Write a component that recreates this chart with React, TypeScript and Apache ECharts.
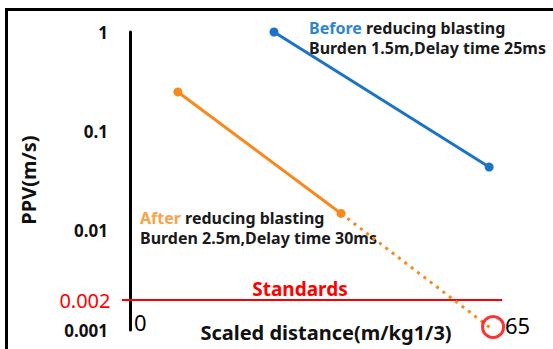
import React, { useEffect, useRef } from "react";
import * as echarts from "echarts";

// ---- data ----
const yTickValues = [0.001, 0.01, 0.1, 1];
const yTickLabels = ["0.001", "0.01", "0.1", "1"];
const xTickValues = [0, 65];
const xRange = [-1.4, 66.6];

const beforeX = [25.8, 64.3];
const beforeY = [1.0, 0.0437];

const afterX = [8.6, 37.8];
const afterY = [0.249, 0.0149];

const projectionX = [37.8, 65];
const projectionY = [0.0149, 0.001];

const standardValue = 0.002;
const standardLabel = "0.002";
const standardX = [-1.4, 66.6];

const targetPoint = [65, 0.001];

const FONT = "'Noto Sans', 'DejaVu Sans', sans-serif";
const BLUE = "#1a73c6";
const ORANGE = "#f58a1f";
const RED = "#ff0000";

export default function App() {
  const ref = useRef<HTMLDivElement>(null);

  useEffect(() => {
    if (!ref.current) return;
    const chart = echarts.init(ref.current, null, { renderer: "svg" });

    const zip = (xs: number[], ys: number[]) => xs.map((x, i) => [x, ys[i]]);

    chart.setOption({
      animation: false,
      backgroundColor: "#ffffff",
      grid: {
        left: 122,
        right: 51,
        top: 32,
        bottom: 19,
        containLabel: false,
        outerBoundsMode: "none",
      },
      xAxis: {
        type: "value",
        min: xRange[0],
        max: xRange[1],
        axisLine: { show: false, onZero: false },
        axisTick: { show: false },
        splitLine: { show: false },
        axisLabel: {
          customValues: xTickValues,
          margin: -8,
          verticalAlign: "middle",
          fontFamily: FONT,
          fontSize: 22,
          color: "#000",
          formatter: (v: number) => (v === xTickValues[0] ? `{a|${v}}` : `{b|${v}}`),
          rich: {
            a: { fontFamily: FONT, fontSize: 22, color: "#000", padding: [0, 0, 0, 21] },
            b: { fontFamily: FONT, fontSize: 22, color: "#000", padding: [6, 0, 0, 49] },
          },
        },
      },
      yAxis: {
        type: "log",
        logBase: 10,
        min: yTickValues[0],
        max: yTickValues[yTickValues.length - 1],
        offset: -8,
        axisLine: { show: true, onZero: false, lineStyle: { color: "#000", width: 3 } },
        axisTick: { show: false },
        splitLine: { show: false },
        axisLabel: {
          margin: 22,
          fontFamily: FONT,
          fontSize: 17,
          fontWeight: "bold",
          color: "#111",
          formatter: (v: number) => {
            const idx = yTickValues.findIndex((t) => Math.abs(Math.log10(t) - Math.log10(v)) < 1e-6);
            return idx >= 0 ? yTickLabels[idx] : "";
          },
        },
      },
      series: [
        {
          name: "Standards",
          type: "line",
          clip: false,
          symbol: "circle",
          symbolSize: 1,
          showSymbol: true,
          z: 1,
          silent: true,
          itemStyle: { color: RED },
          lineStyle: { color: RED, width: 2 },
          data: [
            {
              value: [standardX[0], standardValue],
              label: {
                show: true,
                position: "left",
                distance: 11,
                formatter: standardLabel,
                fontFamily: FONT,
                fontSize: 20,
                color: RED,
              },
            },
            { value: [standardX[1], standardValue] },
          ],
        },
        {
          name: "Before",
          type: "line",
          clip: false,
          symbol: "circle",
          symbolSize: 9,
          z: 3,
          itemStyle: { color: BLUE },
          lineStyle: { color: BLUE, width: 3 },
          data: zip(beforeX, beforeY),
        },
        {
          name: "After projection",
          type: "line",
          clip: false,
          symbol: "none",
          z: 2,
          lineStyle: { color: ORANGE, width: 3, type: [3, 5], cap: "butt" },
          data: zip(projectionX, projectionY),
        },
        {
          name: "After",
          type: "line",
          clip: false,
          symbol: "circle",
          symbolSize: 9,
          z: 3,
          itemStyle: { color: ORANGE },
          lineStyle: { color: ORANGE, width: 3 },
          data: zip(afterX, afterY),
        },
        {
          name: "Target",
          type: "scatter",
          clip: false,
          symbol: "circle",
          symbolSize: 21,
          symbolOffset: [0, -3],
          z: 4,
          itemStyle: { color: "rgba(0,0,0,0)", borderColor: RED, borderWidth: 3 },
          data: [targetPoint],
        },
      ],
      graphic: [
        {
          type: "rect",
          silent: true,
          shape: { x: 6.5, y: 9.5, width: 700, height: 500 },
          style: { fill: "none", stroke: "#000", lineWidth: 3 },
        },
        {
          type: "text",
          x: 28,
          y: 180,
          rotation: Math.PI / 2,
          style: {
            text: "PPV(m/s)",
            align: "center",
            verticalAlign: "middle",
            fontFamily: FONT,
            fontSize: 20,
            fontWeight: "bold",
            fill: "#111",
          },
        },
        {
          type: "text",
          x: 326,
          y: 332,
          style: {
            text: "Scaled distance(m/kg1/3)",
            align: "center",
            verticalAlign: "middle",
            fontFamily: FONT,
            fontSize: 20,
            fontWeight: "bold",
            fill: "#111",
          },
        },
        {
          type: "text",
          x: 300,
          y: 289,
          style: {
            text: "Standards",
            align: "center",
            verticalAlign: "middle",
            fontFamily: FONT,
            fontSize: 19,
            fontWeight: "bold",
            fill: RED,
          },
        },
        {
          type: "text",
          x: 309,
          y: 17.5,
          style: {
            text: "{hl|Before} {t|reducing blasting}\n{t|Burden 1.5m,Delay time 25ms}",
            align: "left",
            verticalAlign: "top",
            fontFamily: FONT,
            fontSize: 16,
            fontWeight: "bold",
            lineHeight: 20,
            fill: "#1a1a1a",
            rich: {
              hl: { fontFamily: FONT, fontSize: 16, fontWeight: "bold", lineHeight: 20, fill: "#2e86cf" },
              t: { fontFamily: FONT, fontSize: 16, fontWeight: "bold", lineHeight: 20, fill: "#1a1a1a" },
            },
          },
        },
        {
          type: "text",
          x: 140,
          y: 208,
          style: {
            text: "{hl|After} {t|reducing blasting}\n{t|Burden 2.5m,Delay time 30ms}",
            align: "left",
            verticalAlign: "top",
            fontFamily: FONT,
            fontSize: 16,
            fontWeight: "bold",
            lineHeight: 20,
            fill: "#1a1a1a",
            rich: {
              hl: { fontFamily: FONT, fontSize: 16, fontWeight: "bold", lineHeight: 20, fill: "#f8a448" },
              t: { fontFamily: FONT, fontSize: 16, fontWeight: "bold", lineHeight: 20, fill: "#1a1a1a" },
            },
          },
        },
      ],
    });

    return () => chart.dispose();
  }, []);

  return (
    <div
      ref={ref}
      style={{ position: "fixed", left: 0, top: 0, width: 553, height: 349, background: "#fff" }}
    />
  );
}
